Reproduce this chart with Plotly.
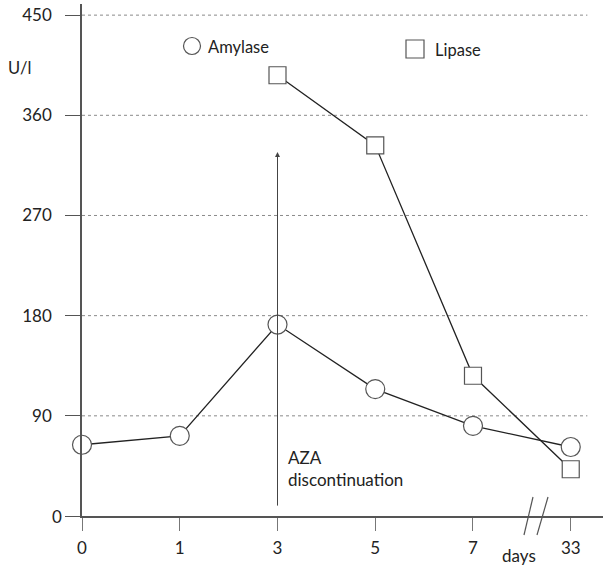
import plotly.graph_objects as go

days = ["0", "1", "3", "5", "7", "33"]
amylase = [64, 72, 172, 114, 81, 62]
lipase = [None, None, 396, 333, 126, 42]
y_ticks = [0, 90, 180, 270, 360, 450]
y_ticktext = ["", "90", "180", "270", "360", "450"]
grid_vals = [90, 180, 270, 360, 450]

FONT = "Lato"
TXT = "#222222"
AX = "#555555"

W, H = 609, 568
L, R, T, B = 82, 6, 4, 52
pw, ph = W - L - R, H - T - B
def px(x): return (x - L) / pw
def py(y): return (H - B - y) / ph

fig = go.Figure()
fig.add_trace(go.Scatter(
    x=days, y=amylase, mode="lines+markers", name="Amylase",
    line=dict(color="#222222", width=1.3),
    marker=dict(symbol="circle", size=19, color="white", line=dict(color="#555555", width=1.2)),
    showlegend=False, cliponaxis=False))
fig.add_trace(go.Scatter(
    x=days, y=lipase, mode="lines+markers", name="Lipase",
    line=dict(color="#222222", width=1.3),
    marker=dict(symbol="square", size=17, color="white", line=dict(color="#555555", width=1.2)),
    showlegend=False, connectgaps=False, cliponaxis=False))

shapes = []
for g in grid_vals:
    shapes.append(dict(type="line", xref="x", yref="y", x0=0, x1=5.17, y0=g, y1=g,
                       line=dict(color="#8a8a8a", width=1, dash="dot"), layer="below"))
for x0, x1 in [(524, 533), (537, 548)]:
    shapes.append(dict(type="line", xref="paper", yref="paper",
                       x0=px(x0), x1=px(x1), y0=py(535), y1=py(497),
                       line=dict(color=AX, width=1.2)))
shapes.append(dict(type="circle", xref="paper", yref="paper", xsizemode="pixel", ysizemode="pixel",
                   xanchor=px(192), yanchor=py(46), x0=-8.5, x1=8.5, y0=-8.5, y1=8.5,
                   line=dict(color="#555555", width=1.2), fillcolor="white"))
shapes.append(dict(type="rect", xref="paper", yref="paper", xsizemode="pixel", ysizemode="pixel",
                   xanchor=px(415), yanchor=py(49), x0=-9, x1=9, y0=-9, y1=9,
                   line=dict(color="#555555", width=1.2), fillcolor="white"))

annotations = [
    dict(x=2, y=327, ax=2, ay=8, xref="x", yref="y", axref="x", ayref="y",
         showarrow=True, arrowhead=2, arrowsize=1, arrowwidth=1, arrowcolor="#444444", text=""),
    dict(x=px(286), y=43, xref="paper", yref="y", xanchor="left", yanchor="middle", align="left",
         text="AZA<br>discontinuation", showarrow=False, font=dict(family=FONT, size=17, color=TXT)),
    dict(x=px(206), y=py(47), xref="paper", yref="paper", xanchor="left", yanchor="middle",
         text="Amylase", showarrow=False, font=dict(family=FONT, size=16.5, color=TXT)),
    dict(x=px(433), y=py(50), xref="paper", yref="paper", xanchor="left", yanchor="middle",
         text="Lipase", showarrow=False, font=dict(family=FONT, size=16.5, color=TXT)),
    dict(x=px(6), y=py(68), xref="paper", yref="paper", xanchor="left", yanchor="middle",
         text="U/l", showarrow=False, font=dict(family=FONT, size=16.5, color=TXT)),
    dict(x=px(519), y=py(555), xref="paper", yref="paper", xanchor="center", yanchor="middle",
         text="days", showarrow=False, font=dict(family=FONT, size=17, color=TXT)),
    dict(x=px(64), y=0, xref="paper", yref="y", xanchor="right", yanchor="middle",
         text=str(y_ticks[0]), showarrow=False, font=dict(family=FONT, size=17, color=TXT)),
]

fig.update_layout(
    width=W, height=H, margin=dict(l=L, r=R, t=T, b=B),
    paper_bgcolor="white", plot_bgcolor="white",
    font=dict(family=FONT, size=17, color=TXT),
    shapes=shapes, annotations=annotations, showlegend=False,
    xaxis=dict(type="category", categoryorder="array", categoryarray=days,
               range=[0, 5.33], showgrid=False, zeroline=False,
               showline=True, linecolor=AX, linewidth=1.5,
               ticks="outside", ticklen=13, tickcolor="#777777", tickwidth=1.2,
               ticklabelstandoff=3, tickfont=dict(size=17, color=TXT)),
    yaxis=dict(range=[0, 460], tickvals=y_ticks, ticktext=y_ticktext,
               showgrid=False, zeroline=False,
               showline=True, linecolor=AX, linewidth=1.5,
               ticks="outside", ticklen=15, tickcolor=AX, tickwidth=1.2,
               ticklabelstandoff=10, tickfont=dict(size=17, color=TXT)),
)

fig.write_html("out.html", config={"displayModeBar": False},
               post_script="document.body.style.margin='0';")
